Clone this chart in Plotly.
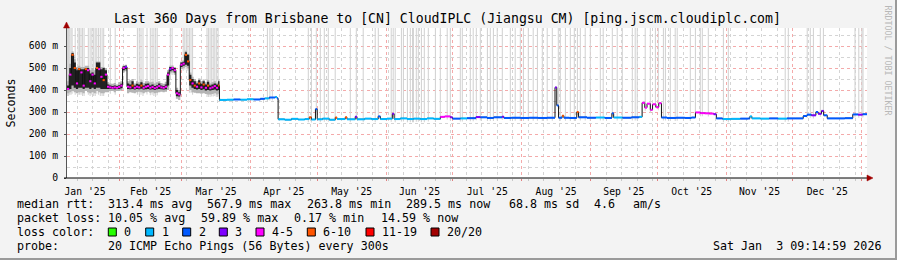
import numpy as np
import pandas as pd
import plotly.graph_objects as go

# ---------------- data ----------------
START = pd.Timestamp("2025-01-08 09:15:00")
END = pd.Timestamp("2026-01-03 09:15:00")

# early high-variance period (days since START), daily smoke bands
smoke_day = [0, 1, 2, 3, 4, 5, 6, 7, 8, 9, 10, 11, 12, 13, 14, 15, 16, 17, 18, 19,
             20, 21, 22, 23, 24, 25, 26, 27, 28, 29, 30, 31, 32, 33, 34, 35, 36, 37, 38, 39,
             40, 41, 42, 43, 44, 45, 46, 47, 48, 49, 50, 51, 52, 53, 54, 55, 56, 57, 58, 59,
             60, 61, 62, 63, 64, 65, 66, 67, 68, 68.6]
core_lo = [400, 405, 420, 410, 405, 410, 410, 405, 410, 410, 405, 410, 405, 410, 410, 405, 405, 405, 405, 405,
           405, 404, 405, 405, 408, 490, 495, 405, 404, 405, 402, 405, 404, 406, 402, 404, 405, 402, 404, 400,
           403, 405, 404, 402, 404, 420, 485, 490, 480, 372, 370, 505, 510, 515, 510, 420, 410, 405, 402, 405,
           400, 403, 398, 400, 398, 400, 402, 398, 400, 352]
core_hi = [420, 500, 568, 525, 490, 500, 495, 495, 500, 500, 475, 480, 470, 525, 525, 495, 500, 490, 425, 420,
           418, 420, 418, 422, 428, 508, 510, 430, 425, 440, 420, 428, 425, 435, 420, 428, 430, 420, 425, 418,
           422, 430, 420, 418, 425, 480, 505, 505, 500, 400, 390, 525, 528, 572, 560, 470, 450, 440, 430, 445,
           428, 440, 425, 438, 420, 425, 430, 425, 440, 358]
smoke_lo = [385, 390, 395, 390, 385, 390, 390, 385, 395, 390, 385, 390, 385, 395, 390, 385, 385, 390, 390, 395,
            395, 390, 395, 395, 398, 480, 485, 385, 390, 388, 385, 390, 392, 390, 385, 390, 392, 388, 390, 385,
            388, 390, 392, 390, 392, 400, 475, 480, 470, 360, 355, 495, 500, 505, 500, 400, 390, 388, 385, 385,
            383, 385, 382, 380, 380, 382, 385, 380, 383, 350]
smoke_hi = [440, 520, 575, 540, 505, 510, 505, 505, 510, 510, 490, 500, 490, 530, 530, 505, 505, 500, 435, 430,
            428, 432, 425, 435, 440, 512, 515, 440, 445, 450, 430, 440, 435, 445, 432, 440, 440, 435, 438, 430,
            435, 440, 432, 428, 438, 490, 510, 512, 505, 410, 400, 530, 535, 578, 565, 480, 460, 450, 440, 452,
            440, 448, 435, 446, 430, 435, 440, 432, 445, 362]

# median rtt (ms) and packet loss (of 20 pings) per step
median_day = [0, 1, 2, 3, 4, 5, 6, 7, 8, 9, 10, 11, 12, 13, 14, 15, 16, 17, 18, 19,
              20, 21, 22, 23, 24, 25, 26, 27, 28, 29, 30, 31, 32, 33, 34, 35, 36, 37, 38, 39,
              40, 41, 42, 43, 44, 45, 46, 47, 48, 49, 50, 51, 52, 53, 54, 55, 56, 57, 58, 59,
              60, 61, 62, 63, 64, 65, 66, 67, 68,
              68.6, 72, 75, 78, 81, 84, 87, 89, 91, 93.7, 94.5,
              95, 98, 101, 104, 107, 109, 110, 111.8, 112.6, 115, 118, 120.7, 121.5, 125.2, 126,
              129.7, 130.5, 134, 137, 140, 141, 144, 146.4, 147.2, 150, 153, 156, 159, 162, 165,
              168, 170, 172.5, 173.5, 177, 180, 184, 186, 189, 192, 195.8, 196.6, 200, 204, 208,
              212, 216, 219.6, 220.4, 221.2, 222.8, 223.6, 226, 229.4, 230.2, 234, 238, 242, 245.2,
              246, 250, 254, 257.5, 258.8, 260, 261, 262.5, 263.5, 265, 266.3, 267.5, 270, 274,
              278, 281, 282.8, 285, 287, 289, 291, 292.2, 295, 299, 303, 306.6, 307.3, 308.2,
              312, 316, 320, 324, 328, 331.3, 333, 335, 337, 338, 339.5, 340.5, 342.1, 346, 350,
              353.6, 356, 358]
median_ms = [405, 470, 560, 500, 430, 495, 480, 420, 495, 490, 440, 470, 430, 500, 495, 460, 445, 470, 415, 412,
             410, 412, 410, 414, 420, 500, 505, 415, 412, 420, 410, 415, 412, 420, 410, 415, 418, 410, 414, 408,
             412, 418, 412, 410, 415, 470, 495, 500, 490, 385, 380, 515, 520, 560, 530, 445, 430, 420, 415, 430,
             412, 425, 410, 420, 408, 412, 418, 410, 420,
             355, 356, 357, 356, 358, 357, 360, 362, 366, 368, 362,
             267, 265, 269, 266, 268, 276, 266, 313, 267, 270, 265, 275, 268, 276, 267,
             279, 267, 270, 268, 280, 268, 270, 292, 268, 271, 268, 270, 268, 271, 269,
             278, 280, 276, 270, 271, 272, 277, 276, 273, 276, 279, 273, 274, 273, 274,
             273, 274, 412, 330, 274, 283, 274, 273, 300, 276, 274, 275, 273, 294,
             275, 274, 276, 278, 342, 320, 338, 310, 335, 322, 340, 275, 273, 274,
             273, 275, 298, 295, 294, 293, 290, 271, 268, 269, 270, 271, 280, 271,
             270, 271, 270, 271, 271, 282, 288, 285, 300, 292, 305, 285, 271, 271, 272,
             289, 288, 290]
median_loss = [5, 5, 8, 7, 5, 7, 5, 5, 8, 5, 5, 5, 4, 7, 5, 5, 8, 5, 5, 5,
               4, 5, 5, 5, 4, 4, 3, 5, 5, 7, 5, 4, 5, 7, 5, 5, 4, 5, 5, 4,
               5, 5, 5, 4, 5, 5, 3, 4, 5, 5, 5, 5, 5, 6, 7, 8, 5, 7, 5, 8,
               5, 7, 5, 7, 5, 4, 5, 5, 7,
               1, 1, 2, 1, 1, 2, 2, 1, 2, 1, 2,
               1, 1, 1, 1, 1, 7, 1, 2, 1, 1, 1, 7, 1, 7, 1,
               3, 1, 1, 1, 2, 1, 1, 3, 1, 1, 1, 1, 1, 1, 1,
               5, 5, 3, 2, 1, 2, 3, 2, 2, 2, 3, 2, 2, 2, 2,
               2, 2, 3, 2, 2, 7, 2, 2, 7, 2, 2, 1, 2, 2,
               1, 2, 2, 1, 5, 5, 4, 5, 5, 4, 5, 2, 2, 2,
               2, 2, 5, 5, 4, 5, 3, 2, 1, 1, 2, 2, 1, 1,
               1, 2, 1, 2, 2, 2, 2, 3, 2, 3, 3, 2, 2, 2, 2,
               2, 3, 2]

# days on which part of the pings were lost (smoke reaches the top)
loss_spike_day = [0.2, 0.7, 1.2, 1.8, 2.3, 3.7, 5.0, 5.6, 6.3, 7.0, 7.7, 9.6, 10.4, 11.2, 12.0, 12.7,
                  13.4, 14.2, 15.0, 15.8, 16.5, 19.5, 21.7, 31.7, 32.5, 33.3, 34.2, 36.0, 37.5, 38.3,
                  39.1, 39.9, 40.6, 46.5, 47.3, 52.3, 53.0, 53.7, 54.4, 55.1, 55.8, 56.5, 63.0, 63.7,
                  64.4, 65.1, 65.8, 66.5, 67.2, 68.0, 90.2, 91.3, 92.4,
                  108.6, 110.0, 112.2, 114.0, 115.8, 117.6, 120.7, 127.5, 130.2, 133.3, 138.7, 140.1,
                  145.9, 146.8, 147.7, 150.5, 151.4, 153.2, 154.5, 155.5, 155.9, 157.2, 158.1, 159.5,
                  160.8, 162.6, 165.8, 168.0, 171.1, 172.5, 177.0, 177.9, 181.5, 182.8, 184.2, 186.0,
                  189.2, 190.5, 191.9, 193.6, 195.9, 199.5, 201.7, 204.0, 205.4, 207.6, 209.8, 211.7,
                  213.9, 216.1, 218.4, 221.1, 222.0, 224.3, 226.5, 228.3, 229.7,
                  231.0, 233.2, 235.5, 240.0, 241.3, 245.4, 247.6, 249.9, 254.4, 255.7, 256.6, 260.2,
                  262.5, 264.8, 266.1, 268.4, 269.3, 271.5, 273.7, 274.6, 280.5, 282.8, 285.0, 285.9,
                  288.6, 295.4, 297.6, 323.2, 324.6, 333.1, 334.5, 335.9, 339.0, 340.4, 354.6, 356.3,
                  357.7, 358.2]

y_tickvals = [0, 100, 200, 300, 400, 500, 600]
y_ticktext = ["0", "100 m", "200 m", "300 m", "400 m", "500 m", "600 m"]

loss_classes = ["0", "1", "2", "3", "4-5", "6-10", "11-19", "20/20"]
loss_colors = ["#26ff00", "#00b8ff", "#0059ff", "#7e00ff", "#ff00ff", "#ff5500", "#ff0000", "#a10000"]

title_text = "Last 360 Days from Brisbane to [CN] CloudIPLC (Jiangsu CM) [ping.jscm.cloudiplc.com]"
stat_rtt = ["313.4 ms avg", "567.9 ms max", "263.8 ms min", "289.5 ms now", "68.8 ms sd", "4.6", "am/s"]
stat_loss = ["10.05 % avg", "59.89 % max", "0.17 % min", "14.59 % now"]
probe_text = "20 ICMP Echo Pings (56 Bytes) every 300s"
stamp_text = "Sat Jan  3 09:14:59 2026"

# ---------------- helpers ----------------
W, H = 897, 260
PL, PR, PT, PB = 67, 867, 28, 178
YMAX = 682


def to_date(days):
    return [START + pd.Timedelta(days=float(d)) for d in days]


def loss_idx(n):
    if n == 0:
        return 0
    if n == 1:
        return 1
    if n == 2:
        return 2
    if n == 3:
        return 3
    if n <= 5:
        return 4
    if n <= 10:
        return 5
    if n <= 19:
        return 6
    return 7


def px(x):
    return (x - PL) / (PR - PL)


def py(y):
    return (PB - y) / (PB - PT)


FONT = "DejaVu Sans Mono"
fig = go.Figure()

# loss spikes (full height light grey)
m_day = np.array(median_day)
m_val = np.array(median_ms)
s_day = np.array(smoke_day)
s_lo = np.array(smoke_lo)
sx, sy = [], []
for d in loss_spike_day:
    if d <= s_day[-1]:
        base = s_lo[np.searchsorted(s_day, d, side="right") - 1] - 12
    else:
        base = m_val[np.searchsorted(m_day, d, side="right") - 1] - 14
    t = START + pd.Timedelta(days=d)
    sx += [t, t, None]
    sy += [base, YMAX + 50, None]
fig.add_trace(go.Scatter(x=sx, y=sy, mode="lines", line=dict(color="#d4d4d4", width=1.1),
                         hoverinfo="skip", showlegend=False))

# smoke bands (outer and core)
sd = to_date(smoke_day + [69])
for lo, hi, col in [(smoke_lo, smoke_hi, "#b4b4b4"), (core_lo, core_hi, "#222222")]:
    fig.add_trace(go.Scatter(x=sd, y=lo + [lo[-1]], mode="lines", line=dict(width=0, shape="hv"),
                             hoverinfo="skip", showlegend=False))
    fig.add_trace(go.Scatter(x=sd, y=hi + [hi[-1]], mode="lines", line=dict(width=0, shape="hv"),
                             fill="tonexty", fillcolor=col, hoverinfo="skip", showlegend=False))

# median: thin black step line underneath
md = to_date(median_day + [360])
fig.add_trace(go.Scatter(x=md, y=median_ms + [median_ms[-1]], mode="lines",
                         line=dict(color="#111111", width=1, shape="hv"),
                         hoverinfo="skip", showlegend=False))

# median coloured by loss
seg = {i: ([], []) for i in range(len(loss_colors))}
for i in range(len(median_day)):
    k = loss_idx(median_loss[i])
    seg[k][0].extend([md[i], md[i + 1], None])
    seg[k][1].extend([median_ms[i], median_ms[i], None])
for k, (xs, ys) in seg.items():
    if xs:
        fig.add_trace(go.Scatter(x=xs, y=ys, mode="lines", line=dict(color=loss_colors[k], width=2),
                                 hoverinfo="skip", showlegend=False))

# ---------------- layout ----------------
ann = []


def text(x, y, s, size=11.66, color="#000", xanchor="left", angle=0):
    ann.append(dict(x=px(x), y=py(y), xref="paper", yref="paper", text=s.replace(" ", "\u00a0"),
                    showarrow=False, xanchor=xanchor, yanchor="middle", textangle=angle,
                    font=dict(family=FONT, size=size, color=color), borderpad=0))


text(447, 18, title_text, size=13.2, xanchor="center")
text(10.5, 103, "Seconds", size=11.66, xanchor="center", angle=-90)
text(887.5, 60, "RRDTOOL / TOBI OETIKER", size=8.3, color="#b8b8b8", xanchor="center", angle=90)

text(16, 204, "median rtt:")
for xpos, s in zip([107, 206.3, 305.7, 405, 508.3, 593.3, 631.7], stat_rtt):
    text(xpos, 204, s)
text(16, 218, "packet loss:")
for xpos, s in zip([107, 200, 293.3, 380], stat_loss):
    text(xpos, 218, s)
text(16, 232, "loss color:")
sq_x = [108.3, 145.7, 182.7, 219.3, 256, 307.3, 366, 431]
shapes = []
for xpos, lab, col in zip(sq_x, loss_classes, loss_colors):
    shapes.append(dict(type="rect", xref="paper", yref="paper", x0=px(xpos), x1=px(xpos + 8),
                       y0=py(236), y1=py(228), fillcolor=col, line=dict(color="#000", width=1)))
    text(xpos + 15, 232, lab)
text(16, 246, "probe:")
text(107, 246, probe_text)
text(881.5, 246, stamp_text, xanchor="right")

# axis arrows and axis lines
shapes.append(dict(type="line", xref="paper", yref="paper", x0=px(66.5), x1=px(66.5), y0=0, y1=py(24),
                   line=dict(color="#555", width=1)))
shapes.append(dict(type="path", xref="paper", yref="paper",
                   path=f"M {px(63.5)} {py(28)} L {px(69.5)} {py(28)} L {px(66.5)} {py(22)} Z",
                   fillcolor="#a00000", line=dict(color="#a00000", width=0.5)))
shapes.append(dict(type="line", xref="paper", yref="paper", x0=px(64), x1=px(868), y0=0, y1=0,
                   line=dict(color="#000", width=1)))
shapes.append(dict(type="path", xref="paper", yref="paper",
                   path=f"M {px(867)} {py(175)} L {px(867)} {py(181)} L {px(873)} {py(178)} Z",
                   fillcolor="#a00000", line=dict(color="#a00000", width=0.5)))
# 3D frame
shapes.append(dict(type="rect", xref="paper", yref="paper", x0=px(895), x1=px(897), y0=py(260), y1=py(0),
                   fillcolor="#9a9a9a", line=dict(width=0)))
shapes.append(dict(type="rect", xref="paper", yref="paper", x0=px(0), x1=px(897), y0=py(260), y1=py(258),
                   fillcolor="#9a9a9a", line=dict(width=0)))

fig.update_layout(
    width=W, height=H,
    margin=dict(l=PL, r=W - PR, t=PT, b=H - PB, pad=0),
    paper_bgcolor="#f3f3f3", plot_bgcolor="#ffffff",
    showlegend=False, annotations=ann, shapes=shapes,
    font=dict(family=FONT, size=9.75, color="#000"),
)
fig.update_xaxes(
    type="date", range=[START, END], dtick="M1", tick0="2025-01-01",
    ticklabelmode="period", tickformat="%b '%y",
    showgrid=True, gridcolor="#f4aaaa", griddash="dot", gridwidth=1,
    ticks="outside", ticklen=2, tickcolor="#e08080", ticklabelstandoff=2,
    minor=dict(dtick=7 * 86400000, tick0="2025-01-06", showgrid=True, gridcolor="#d4d4d4",
               griddash="dot", ticks="outside", ticklen=2, tickcolor="#c8c8c8"),
    showline=False, zeroline=False, fixedrange=True,
    tickfont=dict(family=FONT, size=9.75, color="#000"),
)
fig.update_yaxes(
    range=[0, YMAX], tickvals=y_tickvals, ticktext=y_ticktext,
    showgrid=True, gridcolor="#f4aaaa", griddash="dot", gridwidth=1,
    ticks="outside", ticklen=2, tickcolor="#555", ticklabelstandoff=4,
    minor=dict(dtick=50, showgrid=True, gridcolor="#d4d4d4", griddash="dot"),
    showline=False, zeroline=False, fixedrange=True,
    tickfont=dict(family=FONT, size=9.75, color="#000"),
)

fig.write_html("out.html")
